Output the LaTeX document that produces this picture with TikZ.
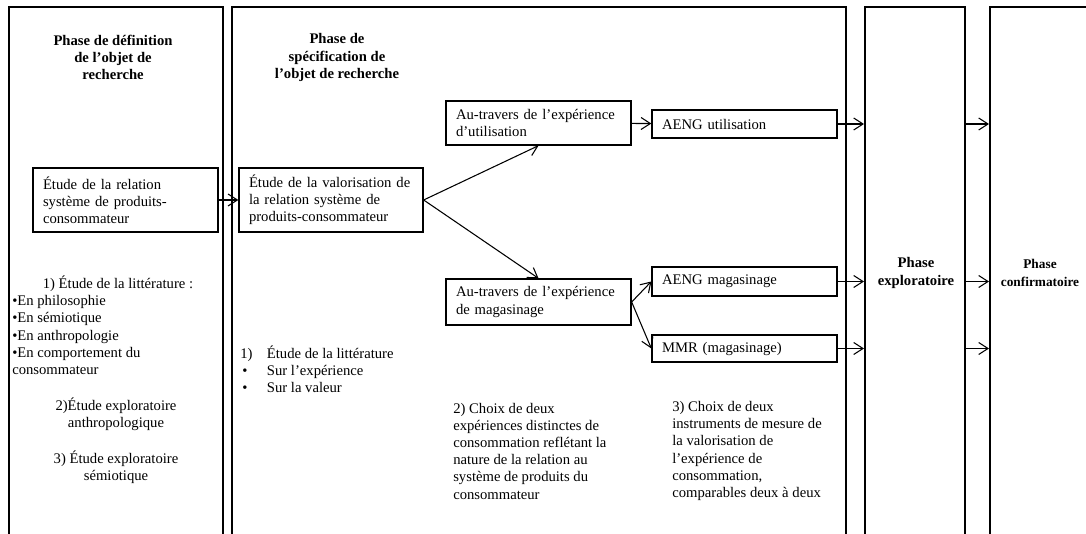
\documentclass[tikz,border=0pt]{standalone}
\usepackage{fontspec}
\setmainfont{Liberation Serif}
\usetikzlibrary{arrows.meta,fit}

\tikzset{
  phase/.style={draw, line width=1.5pt, inner sep=0pt},
  title/.style={font=\fontsize{11}{12.9}\selectfont\bfseries, align=center, inner sep=0pt},
  txt/.style={font=\fontsize{11}{12.9}\selectfont, inner sep=0pt},
  stepbox/.style={draw, line width=1pt, font=\fontsize{11}{12.9}\selectfont, align=left,
    inner xsep=7.5pt, inner ysep=0pt, minimum width=138.75pt, text width=123.75pt},
  arr/.style={-{Straight Barb[length=7pt,width=9pt]}, line width=0.8pt}
}

\begin{document}
\begin{tikzpicture}[x=0.75pt, y=-0.75pt]
        \useasboundingbox (0,0) rectangle (1086,534);

        % Draw the four phase columns (open at the bottom)
        \node[phase, fit={(9,7) (223,545)}] (col1) {};
        \node[phase, fit={(232,7) (846,545)}] (col2) {};
        \node[phase, fit={(865,7) (965,545)}] (col3) {};
        \node[phase, fit={(990,7) (1100,545)}] (col4) {};

        % Column titles
        \node[title] (t1) at (113,57.5) {Phase de définition\\de l’objet de\\recherche};
        \node[title] (t2) at (337,57.5) {Phase de\\spécification de\\l’objet de recherche};
        \node[title] (t3) at (916,273) {Phase\\exploratoire};
        \node[title, font=\fontsize{10}{12.9}\selectfont\bfseries] (t4) at (1040,273) {Phase\\confirmatoire};

        % Boxes
        \node[stepbox, minimum height=48pt] (rel) at (125.5,200)
            {Étude de la relation\\système de produits-\\consommateur};
        \node[stepbox, minimum height=48pt, minimum width=138pt, text width=123pt] (val) at (331,200)
            {Étude de la valorisation de\\la relation système de\\produits-consommateur};
        \node[stepbox, minimum height=33pt] (au1) at (538.5,123)
            {Au-travers de l’expérience\\d’utilisation};
        \node[stepbox, minimum height=34.5pt] (au2) at (538.5,302)
            {Au-travers de l’expérience\\de magasinage};
        \node[stepbox, minimum height=21pt] (aengu) at (744.5,124) {AENG utilisation};
        \node[stepbox, minimum height=21.75pt] (aengm) at (744.5,281.5) {AENG magasinage};
        \node[stepbox, minimum height=20.25pt] (mmr) at (744.5,348.5) {MMR (magasinage)};

        % Texts of the first column
        \node[txt] (lit1) at (118,284) {1) Étude de la littérature :};
        \node[txt, anchor=west, align=left] (lit1b) at (12,335)
            {•En philosophie\\•En sémiotique\\•En anthropologie\\•En comportement du\\consommateur};
        \node[txt, align=center] (expl1) at (116,414) {2)Étude exploratoire\\anthropologique};
        \node[txt, align=center] (expl2) at (116,467) {3) Étude exploratoire\\sémiotique};

        % Texts of the second column
        \node[txt, anchor=west, align=left] (lit2) at (240,369)
            {\makebox[20pt][l]{1)}Étude de la littérature\\
             \makebox[20pt][l]{\hspace{1.5pt}•}Sur l’expérience\\
             \makebox[20pt][l]{\hspace{1.5pt}•}Sur la valeur};
        \node[txt, anchor=west, align=left] (choix1) at (453,451)
            {2) Choix de deux\\expériences distinctes de\\consommation reflétant la\\nature de la relation au\\système de produits du\\consommateur};
        \node[txt, anchor=west, align=left] (choix2) at (672,451)
            {3) Choix de deux\\instruments de mesure de\\la valorisation de\\l’expérience de\\consommation,\\comparables deux à deux};

        % Connectors
        \draw[arr] (rel) -- (val);
        \draw[arr] (val.east) -- (au1.south);
        \draw[arr] (val.east) -- (au2.north);
        \draw[arr] (au1) -- (aengu);
        \draw[arr] (au2.east) -- (aengm.west);
        \draw[arr] (au2.east) -- (mmr.west);
        \draw[arr] (aengu) -- (aengu -| col3.west);
        \draw[arr] (aengm) -- (aengm -| col3.west);
        \draw[arr] (mmr) -- (mmr -| col3.west);
        \draw[arr] (col3.east |- aengu) -- (col4.west |- aengu);
        \draw[arr] (col3.east |- aengm) -- (col4.west |- aengm);
        \draw[arr] (col3.east |- mmr) -- (col4.west |- mmr);

    \end{tikzpicture}
\end{document}
